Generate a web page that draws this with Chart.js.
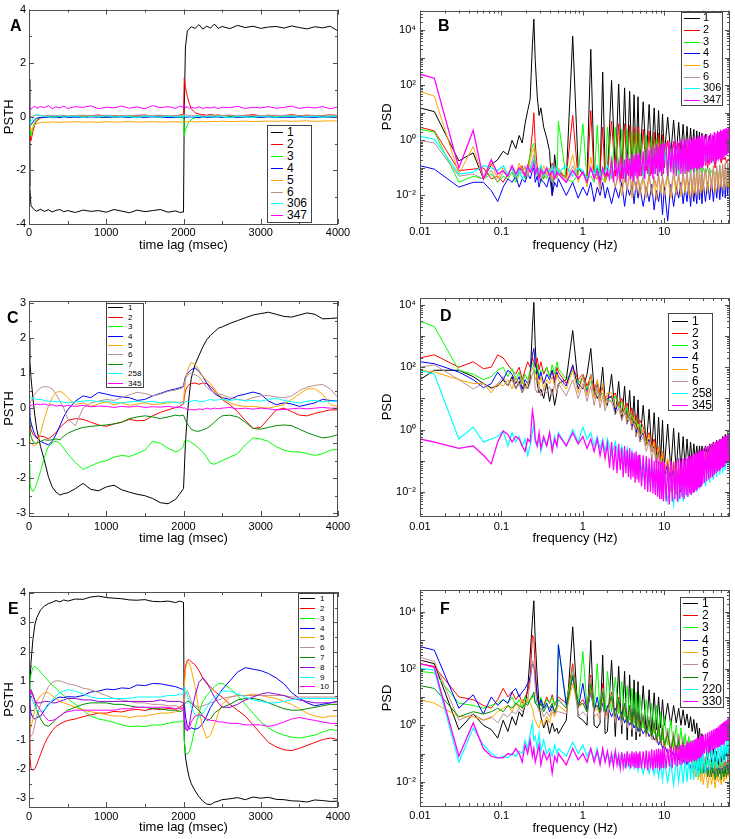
<!DOCTYPE html>
<html>
<head>
<meta charset="utf-8">
<title>PSTH and PSD</title>
<script src="https://cdn.jsdelivr.net/npm/chart.js@4.4.1/dist/chart.umd.min.js"></script>
<style>
  html, body { margin: 0; padding: 0; background: #fff; }
  body { width: 735px; height: 839px; position: relative; overflow: hidden; font-family: "Liberation Sans", Arial, sans-serif; }
  .pane { position: absolute; }
  .pane canvas { display: block; }
  .letter { position: absolute; font: bold 16px/16px "Liberation Sans", Arial, sans-serif; color: #000; }
  .legend { position: absolute; border: 1px solid #444; background: #fff; box-sizing: border-box; }
  .legend .row { position: absolute; white-space: nowrap; color: #000; }
  .legend .sw { display: inline-block; height: 0; vertical-align: middle; }
</style>
</head>
<body>
<div class="pane" style="left:0;top:0;width:367px;height:260px"><canvas id="cA"></canvas></div>
<div class="pane" style="left:367px;top:0;width:368px;height:260px"><canvas id="cB"></canvas></div>
<div class="pane" style="left:0;top:270px;width:367px;height:285px"><canvas id="cC"></canvas></div>
<div class="pane" style="left:367px;top:270px;width:368px;height:285px"><canvas id="cD"></canvas></div>
<div class="pane" style="left:0;top:560px;width:367px;height:279px"><canvas id="cE"></canvas></div>
<div class="pane" style="left:367px;top:560px;width:368px;height:279px"><canvas id="cF"></canvas></div>
<div class="letter" style="left:10px;top:18px">A</div>
<div class="letter" style="left:438px;top:18px">B</div>
<div class="letter" style="left:7px;top:310px">C</div>
<div class="letter" style="left:440px;top:308px">D</div>
<div class="letter" style="left:8px;top:601px">E</div>
<div class="letter" style="left:440px;top:601px">F</div>
<script>
// ---------- PSTH panels (A, C, E): time lag in msec ----------
const lagMs = [0,10,25,50,75,100,150,200,250,300,350,400,450,500,
  600,700,800,900,1000,1100,1200,1300,1400,1500,1600,1700,1800,1900,
  1950,2000,2010,2025,2050,2075,2100,2150,2200,2250,2300,2350,2400,2450,2500,
  2600,2700,2800,2900,3000,3100,3200,3300,3400,3500,3600,3700,3800,3900,4000];

const a1 = [1.4,-2.6,-3.3,-3.42,-3.48,-3.52,-3.45,-3.53,-3.47,-3.55,-3.49,-3.46,-3.54,-3.5,
  -3.57,-3.48,-3.53,-3.5,-3.56,-3.46,-3.52,-3.58,-3.48,-3.54,-3.5,-3.46,-3.56,-3.51,
  -3.57,-3.55,0.3,2.6,3.2,3.28,3.36,3.3,3.44,3.27,3.38,3.31,3.46,3.3,3.37,
  3.29,3.41,3.33,3.38,3.3,3.35,3.37,3.31,3.39,3.33,3.28,3.36,3.32,3.38,3.2];
const a2 = [0,-0.6,-0.9,-0.55,-0.3,-0.15,-0.05,0,0.03,-0.02,0.04,0,0.05,0.01,
  0.05,0.02,0.04,0.07,0.02,0.05,0.03,0.01,0.05,0.07,0.02,0.05,0.03,0.04,
  0.06,0.1,1.45,1.1,0.75,0.5,0.3,0.15,0.1,0.08,0.06,0.09,0.05,0.07,0.04,
  0.06,0.03,0.05,0.08,0.04,0.06,0.03,0.05,0.08,0.04,0.06,0.03,0.05,0.07,0.05];
const a3 = [0,-0.45,-0.7,-0.4,-0.2,-0.1,-0.03,0,-0.02,0.01,-0.01,0.02,0,-0.02,
  0.01,-0.01,0.02,0,-0.03,0.01,0,0.02,-0.02,0.01,0,-0.01,0.02,0,
  -0.02,-0.05,-0.7,-0.5,-0.3,-0.18,-0.1,-0.04,0,-0.02,0.01,-0.01,0.02,0,-0.02,
  0.01,0,-0.01,0.02,-0.02,0.01,0,-0.01,0.01,-0.02,0,0.01,-0.01,0,0.01];
const a4 = [0,-0.2,-0.3,-0.2,-0.1,-0.05,-0.02,-0.03,0,-0.02,-0.01,-0.03,0,-0.02,
  -0.01,-0.03,0,-0.02,-0.01,-0.02,0,-0.03,-0.01,-0.02,0,-0.01,-0.03,-0.02,
  0,-0.01,0,-0.01,-0.02,0,-0.02,-0.01,-0.03,0,-0.02,-0.01,-0.02,0,-0.03,
  -0.01,-0.02,0,-0.01,-0.02,0,-0.03,-0.01,-0.02,0,-0.01,-0.02,0,-0.01,-0.02];
const a5 = [0,-0.35,-0.5,-0.4,-0.3,-0.25,-0.22,-0.2,-0.21,-0.19,-0.2,-0.21,-0.19,-0.2,
  -0.18,-0.2,-0.19,-0.21,-0.18,-0.2,-0.19,-0.17,-0.2,-0.19,-0.18,-0.2,-0.19,-0.18,
  -0.2,-0.19,-0.17,-0.18,-0.19,-0.18,-0.17,-0.19,-0.18,-0.17,-0.19,-0.18,-0.17,-0.18,-0.16,
  -0.18,-0.17,-0.16,-0.18,-0.17,-0.16,-0.17,-0.15,-0.17,-0.16,-0.15,-0.17,-0.16,-0.15,-0.16];
const a6 = [0.1,0.05,0,0.03,0.05,0.06,0.05,0.04,0.06,0.05,0.04,0.06,0.05,0.04,
  0.05,0.06,0.04,0.05,0.06,0.04,0.05,0.05,0.06,0.04,0.05,0.06,0.04,0.05,
  0.05,0.06,0.1,0.08,0.06,0.05,0.05,0.04,0.06,0.05,0.04,0.05,0.06,0.04,0.05,
  0.05,0.04,0.06,0.05,0.04,0.05,0.06,0.04,0.05,0.04,0.06,0.05,0.04,0.05,0.05];
const a306 = [0,-0.3,-0.2,-0.05,0.05,0.1,0.05,0,0.03,-0.03,0.02,0.04,-0.02,0.01,
  0.03,-0.03,0.02,-0.01,0.04,-0.02,0.02,0,-0.04,0.03,0.01,-0.02,0.03,-0.01,
  0.02,0,0.05,-0.02,0.03,0.01,-0.03,0.02,0.04,-0.02,0.01,0.03,-0.03,0.02,0,
  -0.04,0.02,0.01,-0.03,0.03,0,-0.02,0.02,0.04,-0.03,0.01,0.02,-0.02,0.03,0];
const a347 = [0.3,0.33,0.28,0.35,0.4,0.32,0.38,0.34,0.42,0.3,0.37,0.33,0.4,0.31,
  0.38,0.35,0.41,0.3,0.36,0.33,0.4,0.32,0.37,0.3,0.42,0.34,0.38,0.31,
  0.4,0.36,0.45,0.33,0.38,0.3,0.36,0.32,0.38,0.31,0.35,0.33,0.37,0.3,0.36,
  0.34,0.39,0.31,0.36,0.33,0.38,0.32,0.35,0.4,0.31,0.36,0.33,0.38,0.3,0.37];

const c1 = [2.0,1.4,0.9,0.3,-0.2,-0.6,-1.1,-1.5,-1.95,-2.25,-2.4,-2.48,-2.44,-2.42,
  -2.3,-2.15,-2.32,-2.36,-2.25,-2.2,-2.33,-2.4,-2.46,-2.5,-2.58,-2.7,-2.73,-2.6,
  -2.45,-2.3,-1.8,-1.0,-0.2,0.4,0.85,1.25,1.5,1.75,1.95,2.08,2.18,2.28,2.32,
  2.42,2.5,2.58,2.66,2.7,2.74,2.68,2.62,2.6,2.66,2.72,2.68,2.55,2.56,2.58];
const c2 = [-0.3,-0.5,-0.6,-0.75,-0.8,-0.85,-0.8,-0.82,-0.88,-0.8,-0.7,-0.55,-0.45,-0.35,
  -0.3,-0.32,-0.4,-0.48,-0.52,-0.45,-0.4,-0.32,-0.36,-0.35,-0.22,-0.12,-0.05,0.02,
  0.05,0.12,0.3,0.5,0.62,0.68,0.7,0.72,0.68,0.72,0.7,0.62,0.5,0.38,0.25,
  0.1,-0.1,-0.35,-0.58,-0.55,-0.3,-0.05,0.0,-0.1,-0.2,-0.22,-0.15,-0.1,-0.05,-0.05];
const c3 = [-1.6,-2.1,-2.3,-2.38,-2.3,-2.15,-1.8,-1.4,-1.1,-0.98,-0.95,-1.0,-1.15,-1.3,
  -1.55,-1.75,-1.65,-1.55,-1.5,-1.4,-1.35,-1.38,-1.3,-1.2,-0.95,-1.0,-1.15,-1.25,
  -1.2,-1.1,-0.95,-0.9,-0.92,-0.95,-0.98,-1.05,-1.15,-1.25,-1.4,-1.58,-1.6,-1.55,-1.5,
  -1.4,-1.3,-1.05,-0.85,-0.88,-0.95,-1.1,-1.2,-1.25,-1.25,-1.3,-1.35,-1.3,-1.2,-1.18];
const c4 = [0.0,-0.2,-0.4,-0.6,-0.75,-0.85,-0.95,-1.0,-1.05,-0.95,-0.75,-0.5,-0.25,-0.05,
  0.2,0.35,0.3,0.45,0.4,0.35,0.32,0.3,0.22,0.25,0.35,0.42,0.5,0.55,
  0.58,0.62,0.75,0.9,0.98,1.05,1.1,1.15,1.05,0.9,0.72,0.55,0.42,0.35,0.3,
  0.25,0.35,0.4,0.46,0.4,0.2,0.1,0.15,0.12,0.05,0.1,0.15,0.25,0.22,0.2];
const c5 = [-0.9,-0.95,-1.0,-1.05,-1.08,-1.02,-0.7,-0.3,0.05,0.3,0.45,0.48,0.42,0.3,
  0.1,0.15,0.05,0.12,0.18,0.1,0.15,0.08,0.12,0.15,0.1,0.12,0.15,0.18,
  0.15,0.2,0.45,0.8,1.05,1.2,1.3,1.25,1.1,0.9,0.8,0.7,0.55,0.4,0.3,
  0.15,0.08,0.05,0.05,0.02,0.0,0.05,0.1,0.25,0.4,0.55,0.55,0.4,0.1,0.05];
const c6 = [0.0,0.1,0.2,0.3,0.4,0.48,0.58,0.62,0.6,0.55,0.4,0.2,0.0,-0.3,
  -0.5,0.0,0.15,0.2,0.25,0.22,0.3,0.38,0.45,0.42,0.35,0.4,0.48,0.52,
  0.55,0.6,0.7,0.85,0.92,0.98,1.0,0.95,0.9,0.75,0.6,0.5,0.45,0.4,0.38,
  0.3,0.25,0.22,0.3,0.35,0.36,0.32,0.3,0.35,0.5,0.6,0.65,0.68,0.55,0.3];
const c7 = [-0.3,-0.6,-0.8,-0.95,-1.0,-1.0,-0.95,-0.9,-0.92,-0.9,-0.88,-0.9,-0.8,-0.72,
  -0.62,-0.55,-0.52,-0.5,-0.48,-0.45,-0.4,-0.3,-0.25,-0.22,-0.25,-0.3,-0.25,-0.2,
  -0.22,-0.2,-0.25,-0.35,-0.45,-0.52,-0.6,-0.65,-0.66,-0.62,-0.58,-0.5,-0.4,-0.3,-0.22,
  -0.2,-0.25,-0.4,-0.58,-0.6,-0.55,-0.5,-0.48,-0.5,-0.6,-0.7,-0.78,-0.85,-0.82,-0.75];
const c258 = [0.35,0.32,0.3,0.28,0.27,0.25,0.25,0.22,0.2,0.2,0.18,0.2,0.17,0.15,
  0.18,0.2,0.22,0.18,0.2,0.16,0.15,0.18,0.2,0.17,0.2,0.15,0.18,0.16,
  0.15,0.14,0.15,0.18,0.2,0.18,0.2,0.22,0.2,0.18,0.22,0.25,0.22,0.24,0.25,
  0.22,0.25,0.2,0.22,0.2,0.25,0.28,0.22,0.18,0.15,0.2,0.22,0.18,0.2,0.2];
const c345 = [0.0,0.05,0.08,0.1,0.1,0.12,0.1,0.12,0.08,0.1,0.06,0.08,0.05,0.08,
  0.05,0.08,0.04,0.06,0.05,0.02,0.05,0.03,0.06,0.02,0.04,0.03,0.05,0.02,
  0.03,0.0,0.02,-0.02,-0.04,-0.05,-0.04,-0.05,-0.02,-0.04,0.0,-0.03,0.0,-0.02,0.0,
  0.02,-0.02,0.0,-0.03,0.0,-0.02,-0.05,-0.04,-0.02,0.0,-0.02,0.0,0.02,0.0,0.0];

const e1 = [-0.5,0.8,1.6,2.4,2.9,3.15,3.42,3.55,3.63,3.68,3.74,3.69,3.76,3.72,
  3.79,3.78,3.86,3.89,3.84,3.82,3.8,3.76,3.75,3.77,3.71,3.7,3.72,3.67,
  3.72,3.68,-1.0,-1.6,-2.0,-2.3,-2.5,-2.75,-2.95,-3.1,-3.2,-3.22,-3.14,-3.1,-3.05,
  -3.02,-2.98,-3.05,-2.96,-3.0,-2.97,-3.04,-3.05,-3.09,-3.1,-3.13,-3.06,-3.08,-3.11,-3.1];
const e2 = [-0.5,-1.5,-1.98,-2.05,-2.0,-1.85,-1.5,-1.15,-0.9,-0.7,-0.55,-0.47,-0.4,-0.35,
  -0.3,-0.22,-0.16,-0.1,-0.1,-0.04,-0.06,0.0,0.03,-0.01,0.05,0.02,0.06,0.04,
  0.1,0.2,1.0,1.5,1.7,1.72,1.65,1.55,1.35,1.1,0.9,0.8,0.65,0.55,0.45,
  0.2,0.0,-0.2,-0.5,-0.8,-1.1,-1.25,-1.35,-1.38,-1.3,-1.2,-1.1,-1.0,-0.95,-1.0];
const e3 = [0.3,0.8,1.2,1.45,1.5,1.45,1.3,1.15,1.0,0.85,0.75,0.6,0.5,0.4,
  0.2,0.0,-0.2,-0.3,-0.35,-0.42,-0.5,-0.56,-0.54,-0.56,-0.5,-0.51,-0.45,-0.4,
  -0.4,-0.35,-1.0,-1.45,-1.5,-1.4,-1.2,-0.6,-0.1,0.3,0.5,0.65,0.8,0.9,0.92,
  0.75,0.5,0.2,-0.1,-0.4,-0.6,-0.75,-0.85,-0.92,-0.95,-0.9,-0.85,-0.75,-0.65,-0.7];
const e4 = [0.5,0.2,-0.1,-0.25,-0.3,-0.25,-0.2,0.0,0.2,0.3,0.4,0.45,0.43,0.46,
  0.45,0.5,0.62,0.65,0.72,0.7,0.76,0.74,0.86,0.84,0.91,0.9,0.85,0.8,
  0.75,0.7,0.3,-0.2,-0.55,-0.65,-0.6,-0.65,-0.6,-0.45,-0.2,0.1,0.3,0.5,0.7,
  1.0,1.3,1.45,1.4,1.35,1.25,1.1,0.9,0.6,0.4,0.25,0.15,0.2,0.25,0.3];
const e5 = [-0.3,-0.6,-0.6,-0.3,0.0,0.3,0.5,0.6,0.6,0.5,0.4,0.3,0.25,0.2,
  0.1,0.0,-0.05,-0.1,-0.15,-0.2,-0.2,-0.25,-0.2,-0.2,-0.15,-0.1,-0.1,-0.05,
  0.0,0.1,0.8,1.4,1.65,1.6,1.4,0.8,0.0,-0.6,-0.95,-0.85,-0.5,-0.1,0.2,
  0.45,0.5,0.5,0.55,0.5,0.45,0.4,0.3,0.2,0.05,-0.1,-0.2,-0.25,-0.2,-0.2];
const e6 = [-0.5,-0.9,-0.9,-0.8,-0.5,-0.2,0.2,0.5,0.8,0.95,1.0,1.0,0.95,0.9,
  0.85,0.75,0.7,0.6,0.5,0.4,0.35,0.3,0.25,0.25,0.2,0.2,0.15,0.15,
  0.1,0.1,0.3,0.6,0.65,0.5,0.3,0.15,0.1,0.15,0.2,0.25,0.3,0.35,0.4,
  0.45,0.5,0.5,0.5,0.5,0.5,0.5,0.5,0.45,0.45,0.45,0.45,0.45,0.45,0.45];
const e7 = [0.2,0.6,0.7,0.55,0.3,0.0,-0.3,-0.5,-0.55,-0.45,-0.3,-0.2,-0.1,0.0,
  0.1,0.2,0.25,0.25,0.25,0.2,0.2,0.15,0.1,0.1,0.05,0.05,0.0,0.0,
  -0.05,0.0,0.2,0.25,0.3,0.3,0.25,0.1,0.0,-0.2,-0.35,-0.3,-0.1,0.0,0.1,
  0.2,0.35,0.4,0.4,0.35,0.25,0.15,0.05,0.0,0.0,0.05,0.1,0.15,0.2,0.2];
const e8 = [-0.4,0.3,0.6,0.5,0.35,0.25,0.25,0.3,0.3,0.25,0.25,0.3,0.35,0.4,
  0.4,0.35,0.35,0.3,0.3,0.3,0.3,0.3,0.3,0.3,0.3,0.35,0.3,0.3,
  0.3,0.25,-0.4,-0.65,-0.7,-0.5,-0.1,0.5,0.95,1.1,0.95,0.7,0.45,0.25,0.1,
  0.1,0.2,0.35,0.45,0.55,0.6,0.55,0.5,0.4,0.35,0.3,0.25,0.25,0.25,0.3];
const e9 = [0.2,0.6,0.5,0.3,0.15,0.0,-0.05,0.0,0.15,0.35,0.5,0.6,0.65,0.7,
  0.65,0.55,0.45,0.4,0.4,0.4,0.4,0.4,0.45,0.45,0.45,0.45,0.5,0.5,
  0.55,0.55,0.8,0.75,0.5,0.3,0.1,-0.15,-0.25,-0.1,0.1,0.3,0.45,0.55,0.65,
  0.65,0.55,0.45,0.35,0.3,0.25,0.25,0.3,0.35,0.4,0.4,0.4,0.4,0.4,0.4];
const e10 = [-0.3,0.5,0.7,0.5,0.3,0.2,0.0,-0.2,-0.35,-0.35,-0.3,-0.2,-0.1,-0.05,
  0.0,0.0,0.0,0.0,0.0,0.0,0.05,0.05,0.1,0.1,0.1,0.1,0.1,0.05,
  0.05,0.05,-0.2,-0.5,-0.7,-0.6,-0.4,-0.2,-0.15,-0.2,-0.3,-0.35,-0.35,-0.4,-0.4,
  -0.45,-0.45,-0.5,-0.5,-0.5,-0.55,-0.5,-0.4,-0.3,-0.25,-0.3,-0.35,-0.4,-0.45,-0.45];

// ---------- PSD panels (B, D, F): frequency in Hz ----------
const freqHz = [0.01,0.015,0.03,0.045,0.06,0.075,0.09,0.105,0.12,0.135,0.15,0.165,0.18,0.195,
  0.21,0.225,0.24,0.25,0.26,0.275,0.29,0.305,0.33,0.36,0.39,0.42,0.45,0.48,
  0.5,0.625,0.75,0.875,1,1.125,1.25,1.375,1.5,1.625,1.75,1.875,2,
  2.25,2.5,2.75,3,3.25,3.5,3.75,4,4.25,4.5,4.75,5,
  5.5,6,6.5,7,7.5,8,8.5,9,9.5,10,
  11,12,13,14,15,16,17,18,19,20,21,22,23,24,25,26,27,28,29,30,
  32,34,36,38,40,42,44,46,48,50,52,54,56,58,60,62,64];
// finer frequency grid used by the densely sampled high-frequency (magenta) traces
const freqHzFine = [0.01,0.015,0.03,0.045,0.06,0.075,0.09,0.105,0.12,0.135,0.15,0.165,0.18,0.195,
  0.21,0.225,0.24,0.25,0.26,0.275,0.29,0.305,0.33,0.36,0.39,0.42,0.45,0.48,
  0.5,0.625,0.75,0.875,1,1.125,1.25,1.375,1.5,1.625,1.75,1.875,2,
  2.125,2.25,2.375,2.5,2.625,2.75,2.875,3,3.125,3.25,3.375,3.5,3.625,3.75,3.875,4,4.125,4.25,4.375,4.5,4.625,4.75,4.875,5,
  5.25,5.5,5.75,6,6.25,6.5,6.75,7,7.25,7.5,7.75,8,8.25,8.5,8.75,9,9.25,9.5,9.75,10,
  10.5,11,11.5,12,12.5,13,13.5,14,14.5,15,15.5,16,16.5,17,17.5,18,18.5,19,19.5,20,
  20.5,21,21.5,22,22.5,23,23.5,24,24.5,25,25.5,26,26.5,27,27.5,28,28.5,29,29.5,30,
  31,32,33,34,35,36,37,38,39,40,41,42,43,44,45,46,47,48,49,50,51,52,53,54,55,56,57,58,59,60,61,62,63,64];

const b1 = [15,11,0.18,0.35,0.04,0.13,0.2,0.4,0.3,1.0,0.5,1.5,0.8,4,12,30,3000,25000,800,40,8,15,3,1.2,0.4,0.01,0.3,0.05,
  0.08,0.04,6000,0.1,0.06,0.05,2000,0.06,0.1,0.04,300,0.08,0.05,
  150,0.07,110,0.05,80,0.1,60,0.08,45,0.12,38,0.1,
  25,0.15,20,0.2,15,0.25,12,0.2,9,0.3,
  7,0.3,5.5,0.25,4.5,0.3,3.8,0.35,3.2,0.3,2.8,0.4,2.5,0.35,2.2,0.4,2,0.3,1.8,0.5,
  1.7,0.4,1.5,0.5,1.4,0.4,1.3,0.5,1.2,0.6,1.3,0.5,1.4,0.7,1.5,1,1.6];
const b2 = [3,2.2,0.08,0.09,0.1,0.04,0.05,0.03,0.06,0.1,0.04,0.08,0.12,0.05,0.1,0.3,2,10,0.8,0.1,0.05,0.12,0.04,0.1,0.06,0.15,0.05,0.1,
  0.06,0.05,8,0.04,0.07,0.03,12,0.05,0.04,0.08,3,0.03,0.06,
  5,0.05,4,0.04,4,0.06,3.5,0.05,3,0.07,3,0.05,
  2.5,0.08,2.2,0.06,2,0.1,1.8,0.08,1.6,0.1,
  1,0.1,0.9,0.12,0.8,0.1,0.7,0.15,0.6,0.1,0.6,0.15,0.5,0.12,0.5,0.1,0.45,0.15,0.4,0.12,
  0.4,0.1,0.35,0.15,0.3,0.1,0.3,0.2,0.25,0.15,0.25,0.2,0.25,0.15,0.2,0.2,0.25];
const b3 = [2.5,2,0.03,0.05,0.04,0.06,0.03,0.05,0.04,0.07,0.03,0.06,0.1,0.04,0.08,0.3,0.6,0.8,0.2,0.05,0.08,0.03,0.06,0.04,0.08,0.03,0.06,0.04,
  5,0.04,0.03,0.06,4,0.04,0.05,0.03,3.5,0.05,0.04,0.03,3,
  0.04,3,0.05,2.5,0.03,2.5,0.05,2,0.04,2,0.06,1.8,
  0.05,1.5,0.04,1.3,0.06,1.2,0.05,1,0.05,0.9,
  0.04,0.5,0.05,0.4,0.04,0.3,0.05,0.25,0.06,0.2,0.05,0.18,0.06,0.15,0.05,0.15,0.06,0.12,0.05,0.1,
  0.06,0.1,0.05,0.08,0.06,0.07,0.05,0.06,0.06,0.06,0.05,0.05,0.04,0.05,0.05,0.05,0.05];
const b4 = [0.12,0.09,0.02,0.03,0.03,0.015,0.006,0.02,0.04,0.03,0.05,0.02,0.04,0.03,0.06,0.04,0.08,0.1,0.03,0.05,0.02,0.04,0.03,0.02,0.05,0.01,0.03,0.02,
  0.04,0.01,0.03,0.008,0.02,0.01,0.03,0.006,0.02,0.01,0.03,0.008,0.02,
  0.005,0.02,0.008,0.03,0.004,0.02,0.01,0.025,0.005,0.03,0.008,0.02,
  0.004,0.02,0.006,0.025,0.003,0.015,0.006,0.02,0.002,0.02,
  0.0012,0.025,0.004,0.02,0.008,0.03,0.005,0.02,0.006,0.03,0.004,0.025,0.006,0.02,0.005,0.03,0.007,0.025,0.005,0.03,
  0.006,0.03,0.007,0.035,0.006,0.03,0.008,0.04,0.007,0.035,0.009,0.04,0.008,0.045,0.01,0.05,0.04];
const b5 = [60,40,0.06,0.6,0.04,0.15,0.04,0.1,0.06,0.12,0.05,0.15,0.08,0.1,0.05,0.2,0.4,0.5,0.15,0.08,0.1,0.05,0.12,0.06,0.1,0.04,0.08,0.05,
  0.1,0.04,0.3,0.03,0.08,0.02,0.25,0.04,0.06,0.015,0.1,0.03,0.05,
  0.08,0.02,0.06,0.01,0.05,0.02,0.06,0.008,0.04,0.015,0.05,0.01,
  0.04,0.008,0.05,0.01,0.04,0.007,0.05,0.012,0.04,0.01,
  0.05,0.008,0.06,0.01,0.05,0.009,0.06,0.012,0.05,0.01,0.07,0.008,0.06,0.012,0.07,0.01,0.08,0.012,0.07,0.015,
  0.08,0.012,0.09,0.015,0.1,0.012,0.1,0.015,0.12,0.02,0.12,0.015,0.15,0.02,0.15,0.02,0.15];
const b6 = [1.0,0.8,0.05,0.06,0.04,0.08,0.03,0.07,0.05,0.1,0.04,0.09,0.06,0.12,0.05,0.1,0.2,0.3,0.08,0.06,0.1,0.04,0.08,0.05,0.07,0.03,0.06,0.04,
  0.08,0.03,0.12,0.04,0.07,0.03,0.1,0.05,0.06,0.02,0.08,0.04,0.05,
  0.07,0.02,0.06,0.03,0.05,0.015,0.06,0.02,0.05,0.015,0.06,0.02,
  0.05,0.015,0.06,0.012,0.05,0.02,0.06,0.015,0.05,0.02,
  0.06,0.015,0.07,0.02,0.06,0.015,0.07,0.02,0.08,0.015,0.07,0.02,0.08,0.02,0.09,0.015,0.08,0.02,0.09,0.025,
  0.1,0.02,0.1,0.025,0.12,0.02,0.12,0.03,0.13,0.025,0.14,0.03,0.15,0.03,0.16,0.04,0.15];
const b306 = [1.4,1.1,0.06,0.07,0.12,0.1,0.08,0.12,0.06,0.1,0.05,0.08,0.04,0.06,0.1,0.08,0.15,0.2,0.1,0.06,0.08,0.12,0.05,0.1,0.07,0.12,0.06,0.1,
  0.07,0.12,0.05,0.1,0.08,0.04,0.1,0.06,0.12,0.05,0.1,0.07,0.12,
  0.05,0.1,0.06,0.12,0.05,0.1,0.07,0.14,0.06,0.12,0.08,0.15,
  0.06,0.15,0.08,0.2,0.07,0.25,0.08,0.3,0.1,0.35,
  0.08,0.3,0.1,0.4,0.08,0.35,0.1,0.45,0.12,0.4,0.1,0.5,0.12,0.45,0.15,0.6,0.12,0.5,0.15,0.6,
  0.15,0.7,0.2,0.8,0.2,0.9,0.25,1,0.3,1.1,0.3,1.2,0.35,1.3,0.4,1.5,1.2];
const b347 = [250,180,0.1,2.3,0.04,0.2,0.06,0.08,0.05,0.12,0.06,0.1,0.08,0.05,0.12,0.07,0.1,0.15,0.06,0.1,0.04,0.08,0.06,0.1,0.05,0.08,0.04,0.07,
  0.06,0.03,0.08,0.04,0.07,0.03,0.1,0.04,0.08,0.03,0.1,0.05,0.08,
  0.04,0.18,0.03,0.22,0.05,0.15,0.03,0.25,0.04,0.2,0.03,0.3,0.05,0.22,0.04,0.32,0.03,0.28,0.05,0.35,0.04,0.3,0.05,0.4,
  0.05,0.4,0.04,0.5,0.06,0.45,0.05,0.6,0.04,0.55,0.06,0.7,0.05,0.6,0.07,0.75,0.05,0.8,0.06,0.7,
  0.8,0.05,0.9,0.07,0.7,0.06,1,0.05,0.85,0.08,1.1,0.06,0.9,0.07,1.2,0.06,1,0.08,1.1,0.07,
  1.3,0.08,1,0.09,1.2,0.07,1.4,0.1,1.1,0.08,1.3,0.1,1.5,0.09,1.2,0.11,1.4,0.1,1.6,0.12,
  1.5,0.12,1.7,0.15,1.4,0.13,1.8,0.16,1.6,0.18,2,0.15,1.8,0.2,2.2,0.18,2,0.22,2.4,0.2,
  2.2,0.25,2.6,0.25,2.4,0.3,2.8,0.28,2.6,0.32,3,0.35,2.8,2.5];

const d1 = [40,80,80,50,30,22,25,40,25,50,20,35,15,30,20,40,2000,12000,500,30,15,20,10,30,8,20,6,15,
  30,40,1500,30,20,60,400,20,10,15,100,8,6,
  60,3,35,2,25,1.5,18,1,12,0.6,9,0.4,
  6,0.3,4.5,0.2,3.5,0.12,2.5,0.1,2,0.06,
  1.5,0.05,1.1,0.04,0.8,0.05,0.6,0.06,0.5,0.07,0.4,0.08,0.35,0.1,0.3,0.1,0.3,0.12,0.3,0.15,
  0.3,0.15,0.35,0.2,0.4,0.2,0.45,0.25,0.5,0.3,0.6,0.3,0.7,0.35,0.8,0.4,0.9];
const d2 = [200,250,100,150,90,100,250,200,120,80,60,100,40,80,150,100,200,150,100,200,80,150,60,100,50,80,40,100,
  70,30,100,40,60,25,50,20,35,15,25,10,12,
  10,15,6,10,5,7,3,5,2,3,1.5,2,
  1.2,0.5,0.8,0.3,0.5,0.2,0.3,0.1,0.2,0.05,
  0.1,0.02,0.08,0.015,0.06,0.02,0.05,0.025,0.06,0.03,0.08,0.03,0.1,0.04,0.12,0.05,0.15,0.05,0.15,0.06,
  0.2,0.06,0.25,0.08,0.3,0.1,0.35,0.1,0.4,0.12,0.45,0.15,0.5,0.15,0.6,0.2,0.7];
const d3 = [3000,2000,80,60,40,50,80,100,50,90,40,70,30,60,40,80,150,100,60,120,50,80,70,100,50,120,60,150,
  90,40,80,30,50,20,35,15,20,12,15,8,10,
  8,12,5,8,3,5,2,3,1.5,2,1,1.5,
  0.8,0.4,0.5,0.25,0.3,0.12,0.2,0.08,0.12,0.04,
  0.08,0.01,0.06,0.008,0.05,0.01,0.04,0.015,0.05,0.02,0.06,0.02,0.08,0.03,0.1,0.03,0.12,0.04,0.12,0.05,
  0.15,0.05,0.2,0.06,0.25,0.08,0.3,0.08,0.35,0.1,0.4,0.12,0.45,0.12,0.5,0.15,0.6];
const d4 = [150,130,70,40,22,30,70,40,80,60,30,50,20,40,30,60,250,400,120,80,40,70,30,60,40,80,30,70,
  50,25,120,20,50,15,60,12,30,10,25,8,10,
  12,4,8,3,5,2,3.5,1.2,2,0.8,1.2,0.5,
  0.8,0.3,0.5,0.2,0.3,0.1,0.2,0.06,0.12,0.03,
  0.08,0.02,0.06,0.015,0.05,0.01,0.04,0.015,0.05,0.02,0.06,0.025,0.08,0.03,0.08,0.03,0.1,0.04,0.12,0.05,
  0.15,0.06,0.2,0.07,0.25,0.08,0.3,0.1,0.35,0.1,0.4,0.12,0.5,0.15,0.6,0.15,0.8];
const d5 = [80,70,40,30,30,15,30,25,40,20,50,25,40,20,30,60,100,80,40,60,25,50,20,40,30,50,25,60,
  40,20,80,15,50,12,60,10,40,8,30,6,15,
  15,5,8,3,6,2,4,1.5,2.5,1,1.5,0.6,
  1,0.3,0.7,0.2,0.4,0.1,0.3,0.07,0.2,0.04,
  0.12,0.03,0.1,0.02,0.08,0.015,0.06,0.02,0.07,0.025,0.08,0.03,0.1,0.035,0.12,0.04,0.14,0.05,0.16,0.06,
  0.2,0.06,0.25,0.08,0.3,0.1,0.35,0.12,0.4,0.12,0.5,0.15,0.6,0.15,0.7,0.2,0.8];
const d6 = [100,120,40,20,30,20,30,50,25,40,20,30,15,25,20,30,60,80,20,15,25,12,20,15,25,12,30,15,
  30,12,40,10,30,8,25,6,20,5,12,4,8,
  8,3,5,2,3.5,1.5,2.5,1,1.6,0.6,1,0.4,
  0.6,0.2,0.4,0.12,0.25,0.06,0.15,0.04,0.1,0.02,
  0.06,0.012,0.05,0.01,0.04,0.012,0.035,0.015,0.04,0.02,0.05,0.02,0.06,0.025,0.07,0.03,0.08,0.03,0.1,0.04,
  0.12,0.04,0.15,0.05,0.18,0.06,0.2,0.07,0.25,0.08,0.3,0.1,0.35,0.1,0.4,0.12,0.5];
const d258 = [80,60,0.5,1.2,0.4,0.5,0.6,0.9,0.3,0.8,0.4,0.6,0.3,0.5,0.15,0.3,0.8,1.5,0.4,0.3,0.6,0.2,0.5,0.3,0.8,0.25,0.6,0.3,
  0.8,0.3,1,0.4,1.2,0.5,0.8,0.3,0.6,0.25,0.5,0.2,0.5,
  0.15,0.4,0.12,0.3,0.08,0.25,0.06,0.2,0.05,0.15,0.03,0.12,
  0.03,0.1,0.02,0.08,0.015,0.06,0.01,0.05,0.008,0.04,
  0.005,0.03,0.004,0.025,0.006,0.03,0.005,0.03,0.007,0.035,0.008,0.04,0.01,0.05,0.01,0.06,0.012,0.07,0.015,0.08,
  0.015,0.1,0.02,0.12,0.025,0.15,0.03,0.18,0.035,0.2,0.04,0.25,0.05,0.3,0.06,0.35,0.3];
const d345 = [0.5,0.4,0.25,0.3,0.15,0.08,0.4,0.9,0.7,0.4,0.6,0.5,0.3,0.2,0.5,0.4,4,2,0.5,0.3,0.8,0.25,0.6,0.3,0.8,0.2,0.5,0.3,
  0.7,0.3,0.8,0.35,0.6,0.25,0.5,0.2,0.5,0.15,0.4,0.12,0.35,
  0.06,0.4,0.05,0.3,0.04,0.35,0.05,0.25,0.03,0.3,0.04,0.22,0.03,0.25,0.025,0.2,0.03,0.18,0.02,0.2,0.025,0.15,0.02,0.16,
  0.015,0.15,0.012,0.14,0.01,0.12,0.01,0.13,0.009,0.1,0.008,0.12,0.007,0.1,0.006,0.09,0.006,0.1,0.005,0.09,
  0.005,0.08,0.004,0.1,0.005,0.09,0.006,0.1,0.005,0.12,0.006,0.1,0.007,0.12,0.006,0.13,0.008,0.12,0.007,0.14,
  0.009,0.15,0.008,0.16,0.01,0.15,0.01,0.18,0.012,0.17,0.012,0.2,0.014,0.19,0.015,0.22,0.016,0.21,0.018,0.25,
  0.02,0.28,0.022,0.3,0.025,0.33,0.028,0.35,0.03,0.38,0.035,0.4,0.04,0.42,0.045,0.45,0.05,0.5,
  0.055,0.5,0.06,0.55,0.065,0.6,0.07,0.62,0.08,0.65,0.09,0.7,0.1,0.72,0.12,0.6];

const f1 = [200,150,0.7,2.5,1,0.7,0.35,1.5,0.6,2,1,3,2,5,20,300,5000,25000,1000,50,5,2,0.8,1.5,0.5,1.2,0.6,0.8,
  0.5,1.5,3000,2,1.5,1,1000,1,0.8,1.2,300,0.5,0.6,
  200,0.4,120,0.5,80,0.3,60,0.4,40,0.3,35,0.4,
  25,0.5,18,0.6,14,0.7,10,0.8,8,1,
  6,1,5,1.2,4,1,3.5,1,2.5,0.8,2,0.6,1.6,0.5,1.2,0.3,0.8,0.2,0.5,0.1,
  0.3,0.05,0.2,0.04,0.15,0.05,0.12,0.04,0.1,0.05,0.12,0.06,0.15,0.08,0.2,0.1,0.2];
const f2 = [150,120,10,8,5,4,8,20,10,15,8,12,6,10,15,50,1500,1200,100,10,6,8,5,10,6,12,5,8,
  10,6,150,5,8,4,60,4,5,3,30,2,2.5,
  15,1.5,10,1.2,6,1,5,0.8,3.5,0.6,3,0.5,
  2,0.4,1.5,0.3,1.2,0.25,1,0.2,0.8,0.15,
  0.6,0.1,0.5,0.08,0.4,0.06,0.3,0.05,0.25,0.04,0.2,0.03,0.15,0.03,0.12,0.025,0.1,0.03,0.08,0.03,
  0.07,0.02,0.06,0.025,0.06,0.02,0.05,0.025,0.05,0.02,0.06,0.025,0.06,0.03,0.07,0.03,0.08];
const f3 = [80,70,6,5,4,5,6,8,6,10,5,8,4,10,6,8,12,10,6,8,5,10,4,8,6,10,5,8,
  700,6,100,5,400,4,30,4,150,3,20,3,80,
  3,50,2.5,35,2,25,1.5,20,1.2,15,1,12,
  0.8,8,0.6,6,0.5,5,0.4,3,0.3,2,
  0.2,1.5,0.15,1,0.12,0.8,0.1,0.5,0.08,0.4,0.06,0.3,0.05,0.2,0.04,0.15,0.03,0.1,0.03,0.08,
  0.02,0.06,0.02,0.05,0.02,0.05,0.025,0.04,0.02,0.05,0.025,0.04,0.03,0.05,0.03,0.05,0.04];
const f4 = [600,450,4,12,2.5,10,5,8,6,15,20,10,15,20,30,50,150,120,50,10,5,8,4,6,3,5,2.5,4,
  700,5,50,4,30,3,15,3,10,2.5,6,2,5,
  2,4,1.5,3,1.2,2,1,1.5,0.8,1.2,0.6,1,
  0.5,0.8,0.4,0.6,0.3,0.4,0.2,0.3,0.15,0.2,
  0.1,0.15,0.08,0.12,0.06,0.1,0.05,0.08,0.04,0.06,0.03,0.05,0.03,0.04,0.025,0.04,0.02,0.035,0.02,0.03,
  0.02,0.03,0.015,0.03,0.02,0.025,0.015,0.03,0.02,0.03,0.02,0.035,0.02,0.04,0.025,0.04,0.03];
const f5 = [8,6,2,2,1.5,1.8,3,4,5,3,6,4,8,5,10,6,4,2,1.5,1,0.8,1.5,1,2,1.2,3,2,4,
  5,3,30,4,6,3,20,3,4,2,10,2,3,
  8,1.5,6,1.2,5,1,4,0.8,3,0.6,2.5,0.5,
  2,0.4,1.5,0.3,1.2,0.25,1,0.2,0.8,0.15,
  0.5,0.08,0.4,0.06,0.3,0.05,0.2,0.04,0.15,0.03,0.1,0.02,0.08,0.015,0.06,0.012,0.05,0.01,0.04,0.008,
  0.03,0.006,0.025,0.008,0.02,0.006,0.02,0.01,0.015,0.008,0.02,0.01,0.02,0.012,0.025,0.015,0.03];
const f6 = [250,180,1.5,2.5,1.5,2,1.2,2.5,2,3,2.5,4,3,5,8,30,200,150,20,5,3,4,2,3,2,4,2.5,3,
  3,2.5,100,2,3,2,50,2,2.5,1.5,20,1.5,2,
  12,1.2,8,1,6,0.8,5,0.7,4,0.6,3,0.5,
  2.5,0.4,2,0.35,1.5,0.3,1.2,0.25,1,0.2,
  0.8,0.15,0.6,0.12,0.5,0.1,0.4,0.08,0.3,0.06,0.25,0.05,0.2,0.04,0.15,0.03,0.12,0.03,0.1,0.025,
  0.08,0.02,0.06,0.02,0.05,0.02,0.05,0.018,0.04,0.02,0.04,0.02,0.04,0.025,0.05,0.025,0.05];
const f7 = [25,20,2,3,2.5,3,4,3,5,4,6,5,4,6,5,8,10,15,6,5,4,6,3,5,4,6,3,5,
  8,4,60,5,6,3,30,4,5,3,15,3,4,
  10,2,8,1.5,6,1.2,5,1,4,0.8,3,0.6,
  2,0.5,1.5,0.4,1.2,0.3,1,0.25,0.8,0.2,
  0.5,0.12,0.4,0.1,0.3,0.08,0.25,0.06,0.2,0.05,0.15,0.04,0.12,0.03,0.1,0.025,0.08,0.02,0.06,0.02,
  0.05,0.015,0.04,0.015,0.04,0.012,0.03,0.015,0.03,0.012,0.03,0.015,0.035,0.015,0.04,0.02,0.04];
const f220 = [100,90,0.05,0.8,0.2,0.1,0.07,0.08,0.07,0.1,0.08,0.12,0.1,0.3,0.15,0.5,1.2,0.3,0.4,0.15,0.5,0.12,0.3,0.1,0.15,0.08,0.2,0.1,
  0.15,0.08,0.25,0.1,0.2,0.08,0.15,0.06,0.15,0.05,0.12,0.06,0.1,
  0.05,0.12,0.04,0.1,0.035,0.1,0.03,0.08,0.03,0.07,0.025,0.06,
  0.02,0.06,0.02,0.05,0.018,0.05,0.015,0.05,0.012,0.05,
  0.01,0.05,0.008,0.06,0.01,0.06,0.009,0.07,0.01,0.08,0.012,0.08,0.012,0.1,0.015,0.1,0.015,0.12,0.02,0.12,
  0.02,0.15,0.025,0.18,0.03,0.2,0.03,0.25,0.04,0.3,0.04,0.35,0.05,0.4,0.06,0.45,0.4];
const f330 = [150,110,0.08,1.2,0.15,0.08,0.07,0.07,0.1,0.09,0.15,0.1,0.05,0.2,0.1,0.3,0.08,0.15,0.05,0.1,0.2,0.04,0.12,0.06,0.1,0.02,0.08,0.05,
  0.1,0.04,0.15,0.06,0.1,0.05,0.15,0.05,0.12,0.04,0.15,0.05,0.12,
  0.04,0.1,0.035,0.12,0.04,0.09,0.03,0.11,0.035,0.1,0.03,0.12,0.035,0.1,0.03,0.12,0.035,0.11,0.03,0.12,0.03,0.1,0.03,0.12,
  0.03,0.12,0.03,0.13,0.025,0.12,0.03,0.14,0.025,0.13,0.03,0.14,0.03,0.15,0.025,0.14,0.03,0.15,0.03,0.16,
  0.03,0.15,0.035,0.18,0.03,0.16,0.04,0.2,0.035,0.18,0.04,0.2,0.04,0.22,0.045,0.2,0.05,0.25,0.045,0.24,
  0.05,0.28,0.05,0.26,0.06,0.3,0.055,0.32,0.06,0.35,0.065,0.33,0.07,0.38,0.075,0.4,0.08,0.42,0.09,0.45,
  0.1,0.5,0.1,0.55,0.11,0.6,0.12,0.65,0.13,0.7,0.14,0.75,0.15,0.8,0.16,0.9,0.18,1,
  0.2,1.1,0.2,1.2,0.22,1.3,0.25,1.4,0.28,1.5,0.3,1.7,0.32,1.8];

// series names (legend entries) per panel
const namesA = ['1','2','3','4','5','6','306','347'];
const namesB = ['1','2','3','4','5','6','306','347'];
const namesC = ['1','2','3','4','5','6','7','258','345'];
const namesD = ['1','2','3','4','5','6','258','345'];
const namesE = ['1','2','3','4','5','6','7','8','9','10'];
const namesF = ['1','2','3','4','5','6','7','220','330'];

// axis tick labels
const lagTicks = [0, 1000, 2000, 3000, 4000];
const freqTicks = [0.01, 0.1, 1, 10];
const psthTicksA = [-4, -2, 0, 2, 4];
const psthTicksC = [-3, -2, -1, 0, 1, 2, 3];
const psthTicksE = [-3, -2, -1, 0, 1, 2, 3, 4];
const psdTicks = [0.01, 1, 100, 10000];

// grace-like colours
const K = '#000000', R = '#ff0000', G = '#00ff00', BL = '#0000ff', O = '#ffa500',
      T = '#bc8f8f', DG = '#008b00', V = '#9400d3', CY = '#00ffff', M = '#ff00ff';
const colsA = [K, R, G, BL, O, T, CY, M];
const colsC = [K, R, G, BL, O, T, DG, CY, M];
const colsE = [K, R, G, BL, O, T, DG, V, CY, M];

const FONT = '"Liberation Sans", Arial, sans-serif';
const SUP = {'-':'\u207B','0':'\u2070','1':'\u00B9','2':'\u00B2','3':'\u00B3','4':'\u2074','5':'\u2075','6':'\u2076','7':'\u2077','8':'\u2078','9':'\u2079'};
const pow10Label = v => '10' + String(Math.round(Math.log10(v))).split('').map(c => SUP[c]).join('');

function linTicks(min, max, step) {
  const out = [];
  for (let v = Math.ceil(min / step - 1e-9) * step; v <= max + 1e-9; v += step) out.push(Math.round(v * 1000) / 1000);
  return out;
}
function logTicks(min, max, minor) {
  const out = [];
  for (let k = Math.floor(Math.log10(min)); k <= Math.ceil(Math.log10(max)); k++) {
    const js = minor ? [2,3,4,5,6,7,8,9] : [1];
    js.forEach(j => { const v = j * Math.pow(10, k); if (v >= min && v <= max) out.push(v); });
  }
  return out;
}

// inward ticks on all four sides plus the frame
const frameTicks = {
  id: 'frameTicks',
  afterDatasetsDraw(chart, args, o) {
    const { ctx, chartArea: a } = chart;
    const sx = chart.scales.x, sy = chart.scales.y;
    ctx.save();
    ctx.strokeStyle = '#505050';
    ctx.lineWidth = 1;
    ctx.beginPath();
    const onX = (list, len) => list.forEach(v => {
      const p = Math.round(sx.getPixelForValue(v)) + 0.5;
      ctx.moveTo(p, a.bottom); ctx.lineTo(p, a.bottom - len);
      ctx.moveTo(p, a.top); ctx.lineTo(p, a.top + len);
    });
    const onY = (list, len) => list.forEach(v => {
      const p = Math.round(sy.getPixelForValue(v)) + 0.5;
      ctx.moveTo(a.left, p); ctx.lineTo(a.left + len, p);
      ctx.moveTo(a.right, p); ctx.lineTo(a.right - len, p);
    });
    onX(o.xMajor, 5); onX(o.xMinor, 3); onY(o.yMajor, 5); onY(o.yMinor, 3);
    ctx.stroke();
    ctx.strokeRect(Math.round(a.left) + 0.5, Math.round(a.top) + 0.5, Math.round(a.width) - 1, Math.round(a.height));
    ctx.restore();
  }
};

function drawPanel(id, o) {
  const datasets = o.series.map((ys, i) => {
    const xs = (o.xsList && o.xsList[i]) || o.xs;
    return {
      label: o.names[i],
      data: xs.map((x, j) => ({ x: x, y: ys[j] })),
      borderColor: o.colors[i],
      borderWidth: (o.widths && o.widths[i]) || 1,
      pointRadius: 0, tension: 0, fill: false,
      order: -i
    };
  });
  const tickFont = { family: FONT, size: 11 };
  const titleFont = { family: FONT, size: 13 };
  new Chart(document.getElementById(id), {
    type: 'line',
    data: { datasets: datasets },
    options: {
      responsive: true, maintainAspectRatio: false, animation: false, events: [],
      layout: { padding: o.pad },
      plugins: { legend: { display: false }, tooltip: { enabled: false }, frameTicks: o.frame },
      scales: {
        x: {
          type: o.xType, min: o.xMin, max: o.xMax,
          grid: { display: false, drawTicks: false }, border: { display: false },
          afterBuildTicks: s => { s.ticks = o.xLabels.map(v => ({ value: v })); },
          afterFit: s => { s.height = o.xH; },
          ticks: { font: tickFont, color: '#000', padding: o.xPad, maxRotation: 0, autoSkip: false, callback: v => String(v) },
          title: { display: true, text: o.xTitle, font: titleFont, color: '#000', padding: { top: 0, bottom: o.xTitlePad } }
        },
        y: {
          type: o.yType, min: o.yMin, max: o.yMax,
          grid: { display: false, drawTicks: false }, border: { display: false },
          afterBuildTicks: s => { s.ticks = o.yLabels.map(v => ({ value: v })); },
          afterFit: s => { s.width = o.yW; },
          ticks: { font: tickFont, color: '#000', padding: o.yPad, autoSkip: false, callback: o.yType === 'logarithmic' ? pow10Label : (v => String(v)) },
          title: { display: true, text: o.yTitle, font: titleFont, color: '#000', padding: { top: o.yTitlePad, bottom: 0 } }
        }
      }
    },
    plugins: [frameTicks]
  });
}

function drawLegend(o) {
  const box = document.createElement('div');
  box.className = 'legend';
  box.style.cssText = 'left:' + o.left + 'px;top:' + o.top + 'px;width:' + o.w + 'px;height:' + o.h + 'px';
  o.names.forEach((n, i) => {
    const row = document.createElement('div');
    row.className = 'row';
    row.style.cssText = 'left:' + o.lx + 'px;top:' + Math.round(o.first + i * o.rowH - o.rowH / 2) + 'px;height:' +
      o.rowH + 'px;line-height:' + o.rowH + 'px;font-size:' + o.fs + 'px';
    const sw = document.createElement('span');
    sw.className = 'sw';
    sw.style.cssText = 'width:' + o.lw + 'px;border-top:1px solid ' + o.colors[i] + ';margin-right:' + o.gap + 'px';
    row.appendChild(sw);
    row.appendChild(document.createTextNode(n));
    box.appendChild(row);
  });
  document.body.appendChild(box);
}

const psthFrame = (ymin, ymax, major, minor) => ({
  xMajor: linTicks(0, 4000, 1000), xMinor: linTicks(0, 4000, 500),
  yMajor: linTicks(ymin, ymax, major), yMinor: linTicks(ymin, ymax, minor)
});
const psdFrame = (ymin, ymax) => ({
  xMajor: logTicks(0.01, 64, false), xMinor: logTicks(0.01, 64, true),
  yMajor: logTicks(ymin, ymax, false), yMinor: logTicks(ymin, ymax, true)
});

const psthBase = { xs: lagMs, xType: 'linear', xMin: 0, xMax: 4000, xLabels: lagTicks, xTitle: 'time lag (msec)',
  yType: 'linear', yTitle: 'PSTH', yW: 29, yPad: 3, yTitlePad: 2 };
const psdBase = { xs: freqHz, xType: 'logarithmic', xMin: 0.01, xMax: 64, xLabels: freqTicks, xTitle: 'frequency (Hz)',
  yType: 'logarithmic', yTitle: 'PSD', yLabels: psdTicks, yW: 53, yPad: 4, yTitlePad: 13 };

drawPanel('cA', Object.assign({}, psthBase, {
  series: [a1, a2, a3, a4, a5, a6, a306, a347], names: namesA, colors: colsA,
  yMin: -4, yMax: 4, yLabels: psthTicksA, pad: { left: 0, top: 8, right: 29, bottom: 0 },
  xH: 36, xPad: 2, xTitlePad: 7, frame: psthFrame(-4, 4, 2, 1)
}));
drawPanel('cB', Object.assign({}, psdBase, {
  series: [b1, b2, b3, b4, b5, b6, b306, b347], names: namesB, colors: colsA,
  xsList: [null, null, null, null, null, null, null, freqHzFine],
  widths: [1, 1, 1, 1, 1, 1, 1.2, 1.3],
  yMin: 1e-3, yMax: 5.1e4, pad: { left: 0, top: 7, right: 5, bottom: 0 },
  xH: 37, xPad: 2, xTitlePad: 7, frame: psdFrame(1e-3, 5.1e4)
}));
drawPanel('cC', Object.assign({}, psthBase, {
  series: [c1, c2, c3, c4, c5, c6, c7, c258, c345], names: namesC, colors: colsC,
  yMin: -3.08, yMax: 3.06, yLabels: psthTicksC, pad: { left: 0, top: 31, right: 29, bottom: 0 },
  xH: 39, xPad: 4, xTitlePad: 9, frame: psthFrame(-3.08, 3.06, 1, 0.5)
}));
drawPanel('cD', Object.assign({}, psdBase, {
  series: [d1, d2, d3, d4, d5, d6, d258, d345], names: namesD, colors: colsA,
  xsList: [null, null, null, null, null, null, null, freqHzFine],
  widths: [1, 1, 1, 1, 1, 1, 1.2, 1.3],
  yMin: 1.7e-3, yMax: 1.66e4, pad: { left: 0, top: 28, right: 5, bottom: 0 },
  xH: 39, xPad: 4, xTitlePad: 9, frame: psdFrame(1.7e-3, 1.66e4)
}));
drawPanel('cE', Object.assign({}, psthBase, {
  series: [e1, e2, e3, e4, e5, e6, e7, e8, e9, e10], names: namesE, colors: colsE,
  yMin: -3.3, yMax: 4.03, yLabels: psthTicksE, pad: { left: 0, top: 32, right: 29, bottom: 0 },
  xH: 32, xPad: 3, xTitlePad: 3.5, frame: psthFrame(-3.3, 4.03, 1, 0.5)
}));
drawPanel('cF', Object.assign({}, psdBase, {
  series: [f1, f2, f3, f4, f5, f6, f7, f220, f330], names: namesF, colors: colsC,
  xsList: [null, null, null, null, null, null, null, null, freqHzFine],
  widths: [1, 1, 1, 1, 1, 1, 1, 1.2, 1.3],
  yMin: 1.4e-3, yMax: 6e4, pad: { left: 0, top: 30, right: 5, bottom: 0 },
  xH: 33, xPad: 3, xTitlePad: 3, frame: psdFrame(1.4e-3, 6e4)
}));

drawLegend({ names: namesA, colors: colsA, left: 267, top: 125, w: 45, h: 98, first: 7, rowH: 11.9, lx: 3, lw: 12, gap: 4, fs: 12 });
drawLegend({ names: namesB, colors: colsA, left: 681, top: 12, w: 42, h: 94, first: 5, rowH: 11.7, lx: 2, lw: 16, gap: 3, fs: 11 });
drawLegend({ names: namesC, colors: colsC, left: 106, top: 303, w: 38, h: 85, first: 4, rowH: 9.4, lx: 1, lw: 15, gap: 5, fs: 8 });
drawLegend({ names: namesD, colors: colsA, left: 668, top: 313, w: 45, h: 98, first: 7, rowH: 12, lx: 3, lw: 16, gap: 4, fs: 12 });
drawLegend({ names: namesE, colors: colsE, left: 298, top: 593, w: 36, h: 101, first: 5, rowH: 9.8, lx: 1, lw: 15, gap: 5, fs: 8 });
drawLegend({ names: namesF, colors: colsC, left: 680, top: 597, w: 44, h: 111, first: 5, rowH: 12.3, lx: 2, lw: 15, gap: 4, fs: 12 });
</script>
</body>
</html>
